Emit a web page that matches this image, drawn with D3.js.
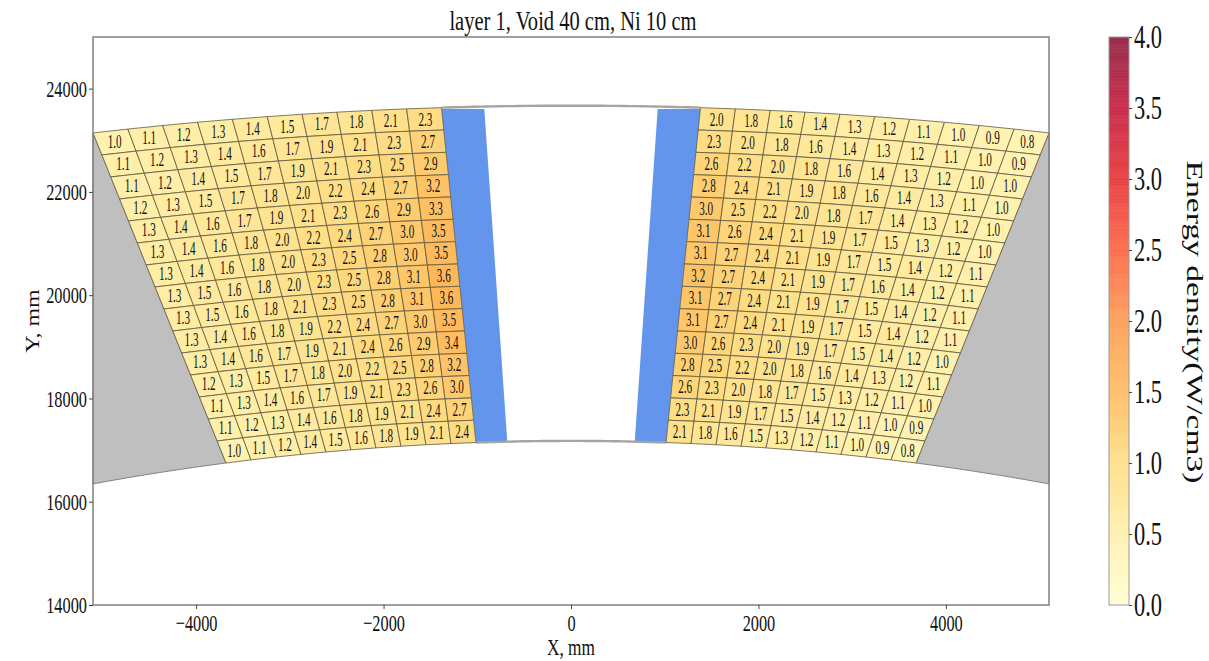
<!DOCTYPE html>
<html>
<head>
<meta charset="utf-8">
<script src="https://cdn.jsdelivr.net/npm/d3@7"></script>
<style>
  html, body { margin: 0; padding: 0; background: #fff; }
  text { font-family: "Liberation Serif", serif; fill: #111; }
</style>
</head>
<body>
<svg id="chart"></svg>
<script>
// Values printed in the cells, row by row from the top of each block
const leftRows = [
  [1.0, 1.1, 1.2, 1.3, 1.4, 1.5, 1.7, 1.8, 2.1, 2.3],
  [1.1, 1.2, 1.3, 1.4, 1.6, 1.7, 1.9, 2.1, 2.3, 2.7],
  [1.1, 1.2, 1.4, 1.5, 1.7, 1.9, 2.1, 2.3, 2.5, 2.9],
  [1.2, 1.3, 1.5, 1.7, 1.8, 2.0, 2.2, 2.4, 2.7, 3.2],
  [1.3, 1.4, 1.6, 1.7, 1.9, 2.1, 2.3, 2.6, 2.9, 3.3],
  [1.3, 1.4, 1.6, 1.8, 2.0, 2.2, 2.4, 2.7, 3.0, 3.5],
  [1.3, 1.4, 1.6, 1.8, 2.0, 2.3, 2.5, 2.8, 3.0, 3.5],
  [1.3, 1.5, 1.6, 1.8, 2.0, 2.3, 2.5, 2.8, 3.1, 3.6],
  [1.3, 1.5, 1.6, 1.8, 2.1, 2.3, 2.5, 2.8, 3.1, 3.6],
  [1.3, 1.4, 1.6, 1.8, 1.9, 2.2, 2.4, 2.7, 3.0, 3.5],
  [1.3, 1.4, 1.6, 1.7, 1.9, 2.1, 2.4, 2.6, 2.9, 3.4],
  [1.2, 1.3, 1.5, 1.7, 1.8, 2.0, 2.2, 2.5, 2.8, 3.2],
  [1.1, 1.3, 1.4, 1.6, 1.7, 1.9, 2.1, 2.3, 2.6, 3.0],
  [1.1, 1.2, 1.3, 1.4, 1.6, 1.8, 1.9, 2.1, 2.4, 2.7],
  [1.0, 1.1, 1.2, 1.4, 1.5, 1.6, 1.8, 1.9, 2.1, 2.4]
];
const rightRows = [
  [2.0, 1.8, 1.6, 1.4, 1.3, 1.2, 1.1, 1.0, 0.9, 0.8],
  [2.3, 2.0, 1.8, 1.6, 1.4, 1.3, 1.2, 1.1, 1.0, 0.9],
  [2.6, 2.2, 2.0, 1.8, 1.6, 1.4, 1.3, 1.2, 1.0, 1.0],
  [2.8, 2.4, 2.1, 1.9, 1.8, 1.6, 1.4, 1.3, 1.1, 1.0],
  [3.0, 2.5, 2.2, 2.0, 1.8, 1.7, 1.4, 1.3, 1.2, 1.0],
  [3.1, 2.6, 2.4, 2.1, 1.9, 1.7, 1.5, 1.3, 1.2, 1.0],
  [3.1, 2.7, 2.4, 2.1, 1.9, 1.7, 1.5, 1.4, 1.2, 1.1],
  [3.2, 2.7, 2.4, 2.1, 1.9, 1.7, 1.6, 1.4, 1.2, 1.1],
  [3.1, 2.7, 2.4, 2.1, 1.9, 1.7, 1.5, 1.4, 1.2, 1.1],
  [3.1, 2.7, 2.4, 2.1, 1.9, 1.7, 1.5, 1.4, 1.2, 1.1],
  [3.0, 2.6, 2.3, 2.0, 1.9, 1.7, 1.5, 1.4, 1.2, 1.0],
  [2.8, 2.5, 2.2, 2.0, 1.8, 1.6, 1.4, 1.3, 1.2, 1.1],
  [2.6, 2.3, 2.0, 1.8, 1.7, 1.5, 1.3, 1.2, 1.1, 1.0],
  [2.3, 2.1, 1.9, 1.7, 1.5, 1.4, 1.2, 1.1, 1.0, 0.9],
  [2.1, 1.8, 1.6, 1.5, 1.3, 1.2, 1.1, 1.0, 0.9, 0.8]
];
const xTicks = [-4000, -2000, 0, 2000, 4000];
const yTicks = [14000, 16000, 18000, 20000, 22000, 24000];
const barTicks = [0, 0.5, 1, 1.5, 2, 2.5, 3, 3.5, 4];

// Detector outline in mm
const outerR = 24900, outerTop = 23670;
const innerR = 16030, innerTop = 17178;
const blockOuterX = [5100, 1382];   // x of the block's top corners
const blockInnerX = [3681, 1014];   // x of the block's bottom corners
const voidOuterX = 925, voidInnerX = 680;
const voidTopY = 23605;

const width = 1209, height = 661;

const svg = d3.select("#chart")
    .attr("width", width)
    .attr("height", height)
    .style("display", "block");

const x = d3.scaleLinear().domain([-5100, 5100]).range([93, 1049]);
const y = d3.scaleLinear().domain([14000, 25000]).range([605, 37]);
const barY = d3.scaleLinear().domain([0, 4]).range([605, 37]);

const ramp = d3.piecewise(d3.interpolateRgb, d3.schemeYlOrRd[9]);
// the cells are painted on a wider scale than the colour bar shows
const cellColor = d3.scaleLinear().domain([0, 9.5]).range([0, 1]);

const outerY = v => outerTop - outerR + Math.sqrt(outerR * outerR - v * v);
const innerY = v => innerTop - innerR + Math.sqrt(innerR * innerR - v * v);

const path = d3.line().x(d => x(d[0])).y(d => y(d[1]));
const arcPoints = (fn, a, b) => d3.range(0, 41).map(i => {
  const v = a + (b - a) * i / 40;
  return [v, fn(v)];
});

// Narrow glyphs: the reference text is squeezed sideways
function squeeze(sel, k) {
  sel.each(function () {
    this.setAttribute("textLength", this.getComputedTextLength() * k);
    this.setAttribute("lengthAdjust", "spacingAndGlyphs");
  });
}

// Grey side regions
[-1, 1].forEach(side => {
  const pts = [[side * 5100, outerY(5100)], [side * blockInnerX[0], innerY(blockInnerX[0]) ]]
      .concat(arcPoints(innerY, side * blockInnerX[0], side * 5100));
  svg.append("path")
      .attr("d", path(pts) + "Z")
      .attr("fill", "#bfbfbf")
      .attr("stroke", "#808080")
      .attr("stroke-width", 1);
});

// Blue void walls
[-1, 1].forEach(side => {
  const pts = [
    [side * blockOuterX[1], voidTopY],
    [side * voidOuterX, voidTopY],
    [side * voidInnerX, innerY(voidInnerX)],
    [side * blockInnerX[1], innerY(blockInnerX[1])]
  ];
  svg.append("path")
      .attr("d", path(pts) + "Z")
      .attr("fill", "#6495ed");
});

// Grey arcs across the gap
[[outerY, blockOuterX[1]], [innerY, blockInnerX[1]]].forEach(([fn, edge]) => {
  svg.append("path")
      .attr("d", path(arcPoints(fn, -edge, edge)))
      .attr("fill", "none")
      .attr("stroke", "#a4a4a4")
      .attr("stroke-width", 2.4);
});

// Cell corner: u runs along the row, v down the block
function cellPoint(sign, u, v) {
  const xt = sign * (blockOuterX[0] + (blockOuterX[1] - blockOuterX[0]) * u);
  const xb = sign * (blockInnerX[0] + (blockInnerX[1] - blockInnerX[0]) * u);
  const yt = outerY(xt), yb = innerY(xb);
  return [xt + (xb - xt) * v, yt + (yb - yt) * v];
}

function drawBlock(rows, sign, flip) {
  const nRow = rows.length, nCol = rows[0].length;
  const cells = rows.flatMap((r, i) => r.map((val, j) => ({
    val, row: i, col: flip ? nCol - 1 - j : j
  })));
  const g = svg.append("g");

  g.selectAll("path")
    .data(cells)
    .join("path")
      .attr("d", d => {
        const u0 = d.col / nCol, u1 = (d.col + 1) / nCol;
        const v0 = d.row / nRow, v1 = (d.row + 1) / nRow;
        return path([
          cellPoint(sign, u0, v0), cellPoint(sign, u1, v0),
          cellPoint(sign, u1, v1), cellPoint(sign, u0, v1)
        ]) + "Z";
      })
      .attr("fill", d => ramp(cellColor(d.val)))
      .attr("fill-opacity", 0.92)
      .attr("stroke", "#5f5a42")
      .attr("stroke-width", 0.8);

  g.selectAll("text")
    .data(cells)
    .join("text")
      .attr("x", d => x(cellPoint(sign, (d.col + 0.5) / nCol, (d.row + 0.5) / nRow)[0]))
      .attr("y", d => y(cellPoint(sign, (d.col + 0.5) / nCol, (d.row + 0.5) / nRow)[1]))
      .attr("dy", "0.34em")
      .attr("text-anchor", "middle")
      .attr("font-size", 18)
      .text(d => d.val.toFixed(1))
      .call(squeeze, 0.62);
}

drawBlock(leftRows, -1, false);
drawBlock(rightRows, 1, true);

// Frame and axes
svg.append("rect")
    .attr("x", x.range()[0])
    .attr("y", y.range()[1])
    .attr("width", x.range()[1] - x.range()[0])
    .attr("height", y.range()[0] - y.range()[1])
    .attr("fill", "none")
    .attr("stroke", "#808080")
    .attr("stroke-width", 1.5);

const fmt = d => String(d).replace("-", "\u2212");

const xAxis = svg.append("g")
    .attr("transform", `translate(0,${y.range()[0]})`)
    .call(d3.axisBottom(x).tickValues(xTicks).tickFormat(fmt).tickSize(4).tickPadding(5).tickSizeOuter(0));
const yAxis = svg.append("g")
    .attr("transform", `translate(${x.range()[0]},0)`)
    .call(d3.axisLeft(y).tickValues(yTicks).tickFormat(fmt).tickSize(4).tickPadding(2).tickSizeOuter(0));

[xAxis, yAxis].forEach(a => {
  a.select(".domain").remove();
  a.selectAll("line").attr("stroke", "#444");
  a.selectAll("text")
      .attr("font-family", "Liberation Serif")
      .attr("font-size", 24)
      .attr("fill", "#111")
      .call(squeeze, 0.68);
});

svg.append("text")
    .attr("x", 573)
    .attr("y", 30)
    .attr("text-anchor", "middle")
    .attr("font-size", 27)
    .text("layer 1, Void 40 cm, Ni 10 cm")
    .call(squeeze, 0.76);

svg.append("text")
    .attr("x", 571)
    .attr("y", 655)
    .attr("text-anchor", "middle")
    .attr("font-size", 24)
    .text("X, mm")
    .call(squeeze, 0.72);

svg.append("text")
    .attr("transform", "translate(39,321) rotate(-90)")
    .attr("text-anchor", "middle")
    .attr("font-size", 18)
    .text("Y, mm")
    .call(squeeze, 1.33);

// Colour bar
const barStops = d3.range(0, 4, 4 / 200);
svg.append("g").selectAll("rect")
  .data(barStops)
  .join("rect")
    .attr("x", 1109)
    .attr("width", 20)
    .attr("y", d => barY(d + 4 / 200))
    .attr("height", d => barY(d) - barY(d + 4 / 200) + 0.3)
    .attr("fill", d => ramp(d / 4))
    .attr("fill-opacity", 0.8);

svg.append("rect")
    .attr("x", 1109)
    .attr("y", 37)
    .attr("width", 20)
    .attr("height", 568)
    .attr("fill", "none")
    .attr("stroke", "#999")
    .attr("stroke-width", 1);

const barAxis = svg.append("g")
    .attr("transform", "translate(1129,0)")
    .call(d3.axisRight(barY).tickValues(barTicks).tickFormat(d3.format(".1f")).tickSize(3).tickPadding(2).tickSizeOuter(0));
barAxis.select(".domain").remove();
barAxis.selectAll("line").attr("stroke", "#444");
barAxis.selectAll("text")
    .attr("font-family", "Liberation Serif")
    .attr("font-size", 33)
    .attr("fill", "#111")
    .call(squeeze, 0.68);

svg.append("text")
    .attr("transform", "translate(1187,322) rotate(90)")
    .attr("text-anchor", "middle")
    .attr("font-size", 23)
    .text("Energy density(W/cm3)")
    .call(squeeze, 1.46);
</script>
</body>
</html>
